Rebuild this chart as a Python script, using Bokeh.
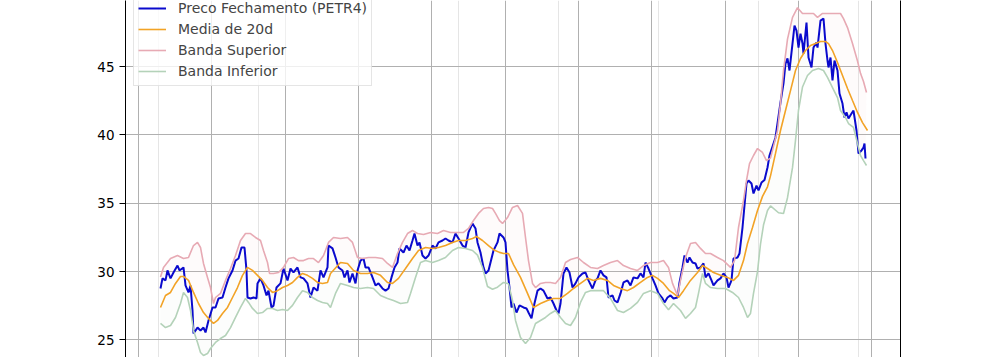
from bokeh.plotting import figure
from bokeh.models import Range1d, FixedTicker, Grid, LinearAxis, Legend, LegendItem
from bokeh.embed import file_html
from bokeh.resources import INLINE

# ---- data (trading-day index, value in R$) ----
close_px = [160,162,165,167,170,173,177,179,183,185,188,190,192,193,197,200,203,205,208,212,215,218,222,225,228,232,235,238,241,244,246,247,250,253,256,257,260,263,266,268,271,273,276,280,283,287,290,293,297,300,303,307,310,313,317,320,323,327,328,332,335,338,342,344,347,349,352,355,357,360,363,365,368,372,375,378,382,385,388,391,394,397,399,403,406,409,412,414,417,419,422,425,428,432,435,438,442,445,448,452,455,458,462,465,468,472,475,477,480,483,485,488,491,493,497,499,503,505,507,509,511,513,516,519,523,526,528,531,533,537,540,543,547,550,553,556,558,560,563,566,569,572,575,578,582,585,588,592,595,597,600,603,606,608,612,614,617,620,623,627,630,633,637,640,643,645,648,652,655,658,662,664,667,670,673,677,679,682,684,687,689,692,695,697,700,703,705,708,711,713,717,720,723,726,728,731,733,737,739,742,744,746,748,751,753,756,758,761,764,767,769,773,775,777,780,783,785,787,789,792,794,796,798,800,802,803,806,808,811,813,816,817,820,823,825,827,828,830,832,834,837,839,842,844,846,848,851,853,856,858,861,863,864,865]
close_val = [28.76,29.5,29.35,30.08,29.5,29.93,30.44,30.08,30.3,28.98,28.47,28.98,27.15,25.47,25.9,25.69,25.9,25.54,26.42,27.37,27.37,28.03,28.1,28.83,29.5,30.08,30.8,30.95,31.76,31.76,30.08,28.1,28.03,28.1,28.03,29.13,29.5,28.98,28.25,28.6,27.37,27.5,28.83,29.13,30.22,29.35,30.22,29.93,30.3,29.57,29.5,29.13,28.1,28.83,28.6,30.08,29.57,30.3,31.9,31.69,31.03,30.3,30.08,29.57,30.08,29.2,29.86,29.13,30.08,30.8,30.95,30.3,30.3,29.57,28.98,29.13,28.76,28.6,28.76,29.57,30.3,30.66,31.69,31.39,31.9,31.54,32.27,32.78,31.9,32.13,31.17,30.95,31.17,31.9,31.69,32.13,32.27,32.42,32.27,32.13,32.78,32.42,31.9,31.76,32.86,33.52,33.15,32.13,31.39,30.3,29.86,30.08,30.95,31.54,32.13,32.78,32.49,32.13,30.08,28.83,27.37,27.66,27.0,27.52,27.37,27.3,27.0,26.57,27.37,28.6,28.76,28.6,28.03,28.1,27.66,27.15,26.93,27.66,29.86,30.3,29.93,28.83,29.13,29.57,29.86,29.93,29.35,28.76,29.35,29.5,30.08,29.72,29.57,28.1,28.25,27.88,27.74,28.4,29.2,29.35,28.98,29.57,29.5,29.86,29.57,30.66,30.22,29.5,28.98,28.4,28.03,27.74,28.1,28.25,28.03,28.1,29.2,30.3,31.17,30.66,31.03,30.66,30.59,30.22,30.3,30.59,29.57,29.86,29.35,28.98,29.35,29.5,29.86,29.57,28.83,29.35,30.95,31.03,31.32,33.22,34.83,36.44,36.66,36.44,35.71,36.29,35.93,36.51,36.7,37.61,38.49,39.37,39.81,40.83,42.37,43.76,45.22,45.59,44.71,46.68,48.0,47.63,46.39,47.41,46.68,45.95,48.22,45.66,44.93,46.39,46.76,46.39,48.36,48.51,46.68,45.44,44.93,45.66,43.98,45.44,44.71,43.02,42.29,41.27,41.64,41.2,41.56,41.78,40.32,38.64,38.86,39.07,39.37,38.27]

ma_px = [160,165,170,175,180,183,188,193,198,203,208,213,217,222,227,232,237,242,247,252,257,262,267,272,277,282,287,292,297,302,307,312,317,322,327,330,340,347,353,360,367,373,380,387,392,398,405,412,418,425,432,438,445,452,458,465,472,476,482,488,493,499,503,508,513,520,527,533,540,547,553,560,567,573,580,587,593,600,607,613,620,627,633,640,647,652,657,663,669,673,678,683,690,697,702,707,713,720,727,733,738,743,747,752,757,762,767,770,775,780,785,790,795,800,805,810,815,820,825,828,832,837,842,847,852,857,862,867]
ma_val = [27.37,28.25,28.47,29.13,29.64,29.64,29.35,28.47,27.66,27.0,26.57,26.2,26.42,26.93,27.37,28.1,28.83,29.72,30.3,30.08,29.72,29.35,28.83,28.47,28.6,28.83,28.98,29.2,29.57,29.86,29.72,29.5,29.2,29.13,29.2,29.86,30.66,30.59,30.08,29.86,29.86,29.93,29.72,29.2,29.13,29.5,30.22,30.95,31.54,31.76,31.69,31.76,31.9,32.13,32.27,32.27,32.42,32.56,32.27,31.9,31.6,31.4,31.32,31.32,30.5,29.57,28.4,27.37,27.66,27.88,28.03,28.03,28.4,28.76,29.13,29.5,29.35,29.5,29.35,28.98,28.76,28.6,28.83,29.2,29.57,29.72,29.5,29.13,28.6,28.4,28.1,28.6,29.35,29.93,30.44,30.22,29.93,29.72,29.57,29.35,29.72,30.8,32.05,33.22,34.47,35.5,36.2,37.0,38.64,40.32,41.78,43.24,44.71,45.59,46.17,46.54,46.68,46.83,46.83,46.68,46.17,45.29,44.34,43.39,42.51,41.64,40.9,40.32]

sup_px = [160,163,170,177,183,188,193,197,200,203,207,210,213,215,220,225,230,235,240,245,250,255,260,263,267,269,273,278,283,288,293,298,303,308,313,318,323,328,333,340,347,352,357,362,368,375,382,387,392,397,402,407,412,417,423,430,437,443,450,457,463,468,473,478,483,488,492,495,499,502,507,512,517,522,525,528,532,535,540,545,550,555,560,565,570,577,583,590,597,603,610,617,623,630,637,643,650,657,663,668,672,677,680,685,690,695,700,705,710,717,723,730,734,738,743,746,749,753,757,762,766,770,777,780,783,787,792,797,802,807,813,817,822,832,840,843,847,852,857,860,863,866]
sup_val = [29.6,30.3,30.95,31.17,30.95,31.03,31.9,32.13,31.76,30.59,29.57,28.83,27.66,28.1,28.4,29.35,30.22,31.17,32.27,32.78,32.78,32.49,32.27,31.54,30.66,29.86,29.86,29.93,30.3,30.95,31.03,30.8,30.8,30.95,30.95,30.66,31.17,32.13,32.49,32.42,32.49,32.13,31.03,30.95,31.03,31.03,30.95,30.59,30.3,31.32,32.13,32.78,33.0,32.78,32.71,32.86,32.78,33.0,32.86,32.86,32.86,33.15,33.73,34.25,34.61,34.69,34.61,34.25,33.73,33.52,33.95,34.69,34.83,34.25,32.49,30.8,29.13,28.83,29.13,29.2,29.2,29.13,29.57,30.66,30.88,31.03,30.66,30.3,30.22,30.44,30.66,30.8,30.44,30.22,30.08,30.44,30.66,30.66,30.8,30.3,29.13,28.25,29.35,31.03,32.05,32.13,31.69,31.32,31.32,31.03,30.8,30.3,30.8,33.22,35.2,36.66,37.9,38.49,39.0,38.71,38.12,38.3,40.3,42.3,44.7,47.0,48.6,49.3,48.88,48.88,48.88,48.6,48.88,48.88,48.88,48.5,47.85,46.68,45.4,44.5,43.9,43.1]

inf_px = [160,165,170,175,180,183,187,190,193,197,200,203,207,210,215,220,225,230,235,240,245,248,252,257,262,267,272,277,282,287,292,297,302,307,312,317,322,327,330,335,340,347,353,360,367,373,380,387,393,400,407,410,415,420,425,432,438,445,452,458,465,472,477,482,487,492,497,503,508,512,515,520,525,530,535,540,545,550,555,560,565,570,575,580,585,590,597,603,610,617,623,630,637,643,650,657,663,668,673,680,685,690,695,698,702,705,710,717,725,732,738,743,747,750,753,757,760,763,767,770,778,783,787,792,795,798,802,807,812,818,823,827,832,837,840,845,848,853,857,860,863,866]
inf_val = [26.2,25.9,26.05,26.64,27.66,28.47,28.1,27.15,25.69,24.81,24.08,23.86,24.0,24.37,24.81,25.1,25.32,25.9,26.64,27.37,28.03,27.74,27.3,26.93,27.0,27.3,27.3,27.15,27.22,27.15,27.52,28.1,28.6,28.47,28.1,27.88,27.74,27.66,27.37,28.4,29.13,28.98,28.83,28.76,28.83,28.76,28.25,28.03,27.88,27.66,27.74,28.4,29.57,30.66,30.8,30.66,30.8,31.03,31.54,31.76,31.69,31.54,31.2,30.3,28.9,28.7,28.85,29.2,29.1,27.88,26.42,25.18,24.74,25.18,26.2,26.42,26.64,26.93,27.15,26.64,26.2,26.05,26.64,27.74,28.47,28.6,28.6,28.6,28.03,27.15,27.0,27.3,27.74,28.4,28.6,28.4,27.66,27.2,27.66,27.15,26.57,26.93,27.37,28.4,29.86,29.13,28.83,28.76,28.76,28.47,28.1,27.37,26.64,26.93,28.4,30.0,32.0,33.4,34.47,34.8,34.3,34.25,35.4,37.6,39.6,41.8,43.5,44.34,44.71,44.85,44.71,44.2,43.46,42.73,41.78,41.27,40.83,40.54,39.37,38.49,38.12,37.76]

ORIGIN = 158
close_x = [v - ORIGIN for v in close_px]
ma_x = [v - ORIGIN for v in ma_px]
sup_x = [v - ORIGIN for v in sup_px]
inf_x = [v - ORIGIN for v in inf_px]

y_ticks = [25, 30, 35, 40, 45, 50]
x_grid_ticks = [-20, 53.3, 126.7, 200, 273.3, 346.7, 420, 493.3, 566.7, 640, 713.3]

FONT = "DejaVu Sans"

p = figure(width=1000, height=357, output_backend="svg", toolbar_location=None,
           x_range=Range1d(-33, 742), y_range=Range1d(23.71, 49.83),
           x_axis_location=None, y_axis_location="left",
           min_border_left=125, min_border_right=100, min_border_top=0, min_border_bottom=0)
p.outline_line_color = None
p.background_fill_color = "white"
p.border_fill_color = "white"

# grids
p.ygrid.ticker = FixedTicker(ticks=y_ticks)
p.ygrid.grid_line_color = "#b0b0b0"
p.ygrid.grid_line_width = 1
p.add_layout(Grid(dimension=0, ticker=FixedTicker(ticks=x_grid_ticks),
                  grid_line_color="#b0b0b0", grid_line_width=1))

# y axis
ya = p.yaxis[0]
ya.ticker = FixedTicker(ticks=y_ticks)
ya.major_label_text_font = FONT
ya.major_label_text_font_size = "13.5px"
ya.major_label_text_color = "black"
ya.major_tick_out = 6
ya.major_tick_in = 0
ya.minor_tick_out = 0
ya.minor_tick_in = 0
ya.axis_line_color = "black"
ya.major_label_standoff = 5

# right spine
ra = LinearAxis(ticker=FixedTicker(ticks=[]), major_label_text_font_size="0px",
                major_tick_out=0, minor_tick_out=0, axis_line_color="black")
p.add_layout(ra, "right")

# faint fills
p.patch(sup_x + close_x[::-1], sup_val + close_val[::-1], fill_color="#e6a8b2",
        fill_alpha=0.05, line_color=None)
p.patch(inf_x + close_x[::-1], inf_val + close_val[::-1], fill_color="#a8d0b0",
        fill_alpha=0.04, line_color=None)

r_close = p.line(close_x, close_val, line_color="#0a0acd", line_width=2)
r_ma = p.line(ma_x, ma_val, line_color="#f2a326", line_width=1.6)
r_sup = p.line(sup_x, sup_val, line_color="#e7aab4", line_width=1.6)
r_inf = p.line(inf_x, inf_val, line_color="#b4d2b9", line_width=1.6)

legend = Legend(items=[
    LegendItem(label="Preco Fechamento (PETR4)", renderers=[r_close]),
    LegendItem(label="Media de 20d", renderers=[r_ma]),
    LegendItem(label="Banda Superior", renderers=[r_sup]),
    LegendItem(label="Banda Inferior", renderers=[r_inf]),
], location=(8, 271))
legend.label_text_font = FONT
legend.label_text_font_size = "14px"
legend.label_height = 20
legend.glyph_height = 20
legend.glyph_width = 28
legend.label_standoff = 12
legend.spacing = 1
legend.padding = 4
legend.margin = 0
legend.border_line_color = "#cccccc"
legend.border_line_width = 1
legend.background_fill_alpha = 0.8
p.add_layout(legend, "center")

open("out.html", "w").write(file_html(p, INLINE))
